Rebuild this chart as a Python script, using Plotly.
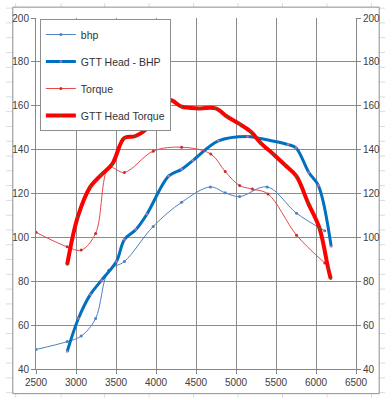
import plotly.graph_objects as go

# ---- data ----
bhp_rpm = [2500, 2890, 3065, 3245, 3410, 3605, 3965, 4320, 4680, 4865, 5045, 5390, 5757, 6110]
bhp = [48.9, 52.5, 55.0, 63.0, 85.0, 89.0, 105.0, 116.0, 123.0, 120.3, 118.6, 123.0, 111.0, 103.0]

gtt_bhp_rpm = [2890, 3030, 3180, 3320, 3505, 3605, 3750, 3885, 4160, 4320, 4460, 4780, 5145, 5270, 5650, 5750, 5910, 6030, 6190]
gtt_bhp = [48.0, 63.0, 74.0, 80.5, 89.0, 99.0, 103.6, 110.5, 128.0, 131.0, 135.0, 144.0, 146.0, 145.3, 142.3, 140.8, 129.6, 123.6, 95.8]

torque_rpm = [2500, 2890, 3065, 3245, 3414, 3605, 3965, 4320, 4685, 4865, 5045, 5205, 5400, 5757, 6110]
torque = [102.3, 95.7, 94.2, 101.8, 131.8, 129.6, 139.3, 141.1, 138.0, 130.0, 123.6, 122.0, 119.8, 101.0, 88.3]

gtt_tq_rpm = [2890, 3022, 3180, 3313, 3454, 3603, 3736, 3897, 4037, 4179, 4320, 4541, 4746, 4888, 5048, 5190, 5310,
              5471, 5612, 5753, 5902, 6043, 6151, 6184]
gtt_tq = [87.6, 109.3, 123.1, 128.4, 133.5, 145.3, 146.1, 150.1, 160.3, 162.6, 159.6, 158.8, 158.8, 155.1, 151.6,
          148.0, 143.0, 137.8, 133.0, 128.0, 115.6, 104.2, 86.1, 81.1]

series_names = ["bhp", "GTT Head - BHP", "Torque", "GTT Head Torque"]
x_ticks = [2500, 3000, 3500, 4000, 4500, 5000, 5500, 6000, 6500]
y_ticks = [40, 60, 80, 100, 120, 140, 160, 180, 200]

W, H = 392, 400
L, R, T, B = 31, 30, 15, 29
PW, PH = W - L - R, H - T - B


def px(xp):
    return (xp - L) / PW


def py(yp):
    return (H - B - yp) / PH


fig = go.Figure()

fig.add_trace(go.Scatter(x=bhp_rpm, y=bhp, name=series_names[0], mode="lines+markers",
                         line=dict(color="#4F81BD", width=1, shape="spline"),
                         marker=dict(size=3, color="#4F81BD"), legendgroup="a"))
fig.add_trace(go.Scatter(x=gtt_bhp_rpm, y=gtt_bhp, name=series_names[1], mode="lines+markers",
                         line=dict(color="#0070C0", width=3, shape="spline"),
                         marker=dict(size=2.5, color="#D070A0"), legendgroup="b"))
fig.add_trace(go.Scatter(x=torque_rpm, y=torque, name=series_names[2], mode="lines+markers",
                         line=dict(color="#E8474A", width=1, shape="spline"),
                         marker=dict(size=3, color="#C0302F"), legendgroup="c"))
fig.add_trace(go.Scatter(x=gtt_tq_rpm, y=gtt_tq, name=series_names[3], mode="lines+markers",
                         line=dict(color="#FF0000", width=4, shape="spline"),
                         marker=dict(size=2.5, color="#4F6228"), legendgroup="d"))
# carrier for the right-hand axis
fig.add_trace(go.Scatter(x=[None], y=[None], yaxis="y2", showlegend=False, hoverinfo="skip"))

shapes = []
grid_col = "#D9DBDD"
# spreadsheet gridlines behind the chart
for xp in [10, 57, 102, 148, 194, 240, 286, 332, 378]:
    shapes.append(dict(type="line", xref="paper", yref="paper", x0=px(xp), x1=px(xp), y0=py(0), y1=py(400),
                       line=dict(color=grid_col, width=1), layer="below"))
for yp in range(5, 400, 15):
    shapes.append(dict(type="line", xref="paper", yref="paper", x0=px(0), x1=px(392), y0=py(yp), y1=py(yp),
                       line=dict(color=grid_col, width=1), layer="below"))
# chart area
shapes.append(dict(type="rect", xref="paper", yref="paper", x0=px(7), x1=px(386), y0=py(396), y1=py(4),
                   fillcolor="white", line=dict(color="#8E8E8E", width=1), layer="below"))

font = dict(family="Liberation Sans, Arial, sans-serif", size=10, color="#404040")
axis_common = dict(showline=True, linecolor="#868686", linewidth=1, ticks="outside", ticklen=4,
                   tickcolor="#868686", gridcolor="#8C8C8C", gridwidth=1, zeroline=False,
                   tickfont=font)

fig.update_layout(
    width=W, height=H,
    margin=dict(l=L, r=R, t=T, b=B),
    paper_bgcolor="white", plot_bgcolor="white",
    font=font,
    shapes=shapes,
    showlegend=True,
    legend=dict(x=px(35), y=py(16), xanchor="left", yanchor="top",
                bgcolor="white", bordercolor="#8E8E8E", borderwidth=1,
                font=dict(family="Liberation Sans, Arial, sans-serif", size=10.5, color="#333333"),
                tracegroupgap=8, itemwidth=30),
    xaxis=dict(range=[2500, 6500], tickvals=x_ticks, showgrid=True, **axis_common),
    yaxis=dict(range=[40, 200], tickvals=y_ticks, showgrid=True, **axis_common),
    yaxis2=dict(range=[40, 200], tickvals=y_ticks, overlaying="y", side="right", showgrid=False,
                showline=True, linecolor="#868686", linewidth=1, ticks="outside", ticklen=4,
                tickcolor="#868686", zeroline=False, tickfont=font),
)

fig.write_html("out.html",
               config={"displayModeBar": False},
               post_script="document.body.style.margin='0';document.body.style.padding='0';"
                           "document.documentElement.style.overflow='hidden';"
                           "var gd=document.getElementById('{plot_id}');"
                           "gd.style.position='absolute';gd.style.left='0px';gd.style.top='0px';")
